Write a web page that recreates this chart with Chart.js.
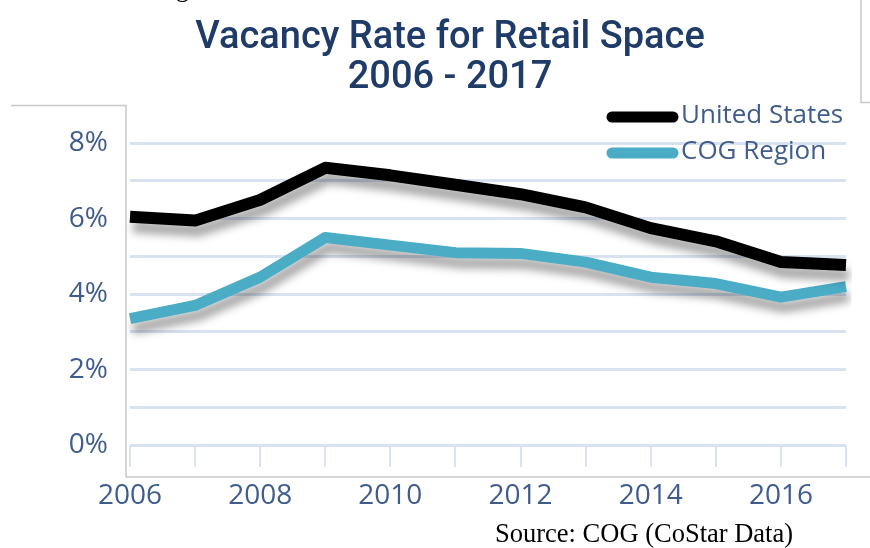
<!DOCTYPE html>
<html>
<head>
<meta charset="utf-8">
<script src="https://cdn.jsdelivr.net/npm/chart.js@4"></script>
<style>
  html, body { margin: 0; padding: 0; background: #fff; }
  #wrap { position: relative; width: 870px; height: 548px; overflow: hidden; }
  #source { position: absolute; left: 495px; top: 518px; font: 26.5px "Liberation Serif", serif; color: #000; }
  #frag { position: absolute; left: 176px; top: -26px; font: 26px "Liberation Serif", serif; color: #000; }
</style>
</head>
<body>
<div id="wrap">
  <canvas id="graficoVacancia" width="870" height="548"></canvas>
  <div id="frag">g</div>
  <div id="source">Source: COG (CoStar Data)</div>
</div>
<script>
const anos = ['2006', '2007', '2008', '2009', '2010', '2011', '2012', '2013', '2014', '2015', '2016', '2017']

const estadosUnidos = [6.05, 5.95, 6.5, 7.35, 7.15, 6.9, 6.65, 6.3, 5.75, 5.4, 4.85, 4.77]
const regiaoCOG = [3.35, 3.7, 4.45, 5.5, 5.3, 5.1, 5.08, 4.85, 4.45, 4.28, 3.92, 4.2]

const nomesSeries = ['United States', 'COG Region']
const coresSeries = ['#000000', '#4BACC6']

const corTexto = '#3F5C8C'
const corGrade = '#D9E2F1'

// sombra cinza embaixo das linhas
const sombra = {
    id: 'sombra',
    beforeDatasetDraw(chart) {
        const ctx = chart.ctx
        ctx.save()
        ctx.shadowColor = 'rgba(0, 0, 0, 0.35)'
        ctx.shadowOffsetX = 3
        ctx.shadowOffsetY = 10
        ctx.shadowBlur = 9
    },
    afterDatasetDraw(chart) {
        chart.ctx.restore()
    }
}

// legenda e moldura desenhadas a mao
const extras = {
    id: 'extras',
    afterDraw(chart) {
        const ctx = chart.ctx
        const area = chart.chartArea
        ctx.save()
        ctx.strokeStyle = '#C8C8C8'
        ctx.lineWidth = 1.5
        ctx.beginPath()
        ctx.moveTo(11, area.top)
        ctx.lineTo(area.left - 4, area.top)
        ctx.lineTo(area.left - 4, area.bottom + 32)
        ctx.lineTo(870, area.bottom + 32)
        ctx.moveTo(861, 0)
        ctx.lineTo(861, area.top - 3)
        ctx.lineTo(870, area.top - 3)
        ctx.stroke()

        const x0 = 607, x1 = 678
        chart.data.datasets.forEach((ds, i) => {
            const y = 117 + i * 36
            ctx.strokeStyle = ds.borderColor
            ctx.lineWidth = 11
            ctx.lineCap = 'round'
            ctx.beginPath()
            ctx.moveTo(x0 + 5, y)
            ctx.lineTo(x1 - 5, y)
            ctx.stroke()
            ctx.fillStyle = corTexto
            ctx.font = '500 26px "Open Sans"'
            ctx.textBaseline = 'middle'
            ctx.textAlign = 'left'
            ctx.fillText(ds.label, x1 + 3, y - 1)
        })
        ctx.restore()
    }
}

const dadosVacancia = {
    labels: anos,
    datasets: [{
        label: nomesSeries[0],
        data: estadosUnidos,
        borderColor: coresSeries[0],
        backgroundColor: coresSeries[0],
        borderWidth: 12
    }, {
        label: nomesSeries[1],
        data: regiaoCOG,
        borderColor: coresSeries[1],
        backgroundColor: coresSeries[1],
        borderWidth: 11
    }]
}

const myChart = new Chart(document.getElementById('graficoVacancia'), {
    type: 'line',
    data: dadosVacancia,
    options: {
        responsive: false,
        animation: false,
        layout: { padding: { left: 54, right: 24, top: 0, bottom: 0 } },
        elements: {
            point: { radius: 0 },
            line: { tension: 0, borderJoinStyle: 'round', borderCapStyle: 'butt' }
        },
        plugins: {
            legend: { display: false },
            tooltip: { enabled: false },
            title: {
                display: true,
                text: ['Vacancy Rate for Retail Space', '2006 - 2017'],
                color: '#1F3B68',
                font: { family: 'Roboto, "Liberation Sans", sans-serif', size: 38, weight: '500', lineHeight: 1.06 },
                padding: { top: 18, bottom: 7 }
            }
        },
        scales: {
            x: {
                offset: false,
                grid: {
                    drawOnChartArea: false,
                    drawTicks: true,
                    tickLength: 22,
                    color: corGrade,
                    lineWidth: 2
                },
                border: { display: false },
                ticks: {
                    autoSkip: false,
                    maxRotation: 0,
                    color: corTexto,
                    font: { family: '"Open Sans"', size: 28, weight: '500' },
                    padding: 12,
                    callback: function (v, i) { return i % 2 === 0 ? anos[i] : '' }
                },
                afterFit: function (s) { s.height = 103 }
            },
            y: {
                min: 0,
                max: 9,
                grid: {
                    drawTicks: false,
                    color: ctx => ctx.tick && ctx.tick.value === 9 ? 'rgba(0,0,0,0)' : corGrade,
                    lineWidth: 3
                },
                border: { display: false },
                ticks: {
                    stepSize: 1,
                    color: corTexto,
                    font: { family: '"Open Sans"', size: 28, weight: '500' },
                    padding: 22,
                    callback: v => (v % 2 === 0 ? v + '%' : '')
                },
                afterFit: function (s) { s.width = 76 }
            }
        }
    },
    plugins: [sombra, extras]
})
</script>
</body>
</html>
